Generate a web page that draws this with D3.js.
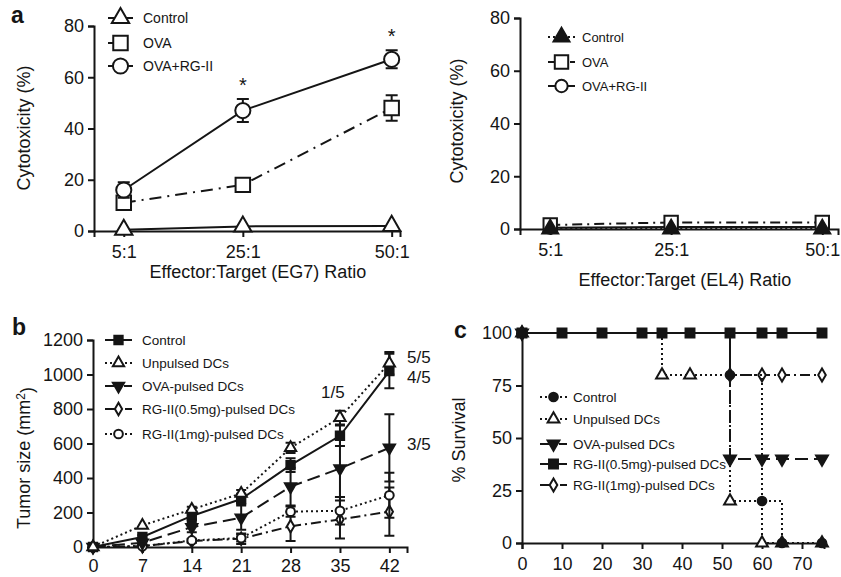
<!DOCTYPE html>
<html>
<head>
<meta charset="utf-8">
<script src="https://cdn.jsdelivr.net/npm/d3@7"></script>
<style>
  body { margin: 0; background: #fff; }
  svg { font-family: "Liberation Sans", Arial, sans-serif; }
</style>
</head>
<body>
<svg id="fig" width="841" height="577"></svg>
<script>
// panel a data: cytotoxicity vs effector:target ratio
var ratios = [5, 25, 50];
var ratioLabels = ["5:1", "25:1", "50:1"];
var cytoTicks = [0, 20, 40, 60, 80];
var eg7Names = ["Control", "OVA", "OVA+RG-II"];
var eg7Control = [0.5, 1.8, 2];
var eg7Ova = [11, 18, 48];
var eg7OvaErr = [0, 1.5, 5];
var eg7OvaRg = [16, 47, 67];
var eg7OvaRgErr = [3, 4.5, 3.5];
var el4Control = [0, 0, 0];
var el4Ova = [1.5, 2.5, 2.5];
var el4OvaRg = [0.5, 0.8, 0.8];

// panel b data: tumor size by day
var days = [0, 7, 14, 21, 28, 35, 42];
var tumorTicks = [0, 200, 400, 600, 800, 1000, 1200];
var groupNames = ["Control", "Unpulsed DCs", "OVA-pulsed DCs", "RG-II(0.5mg)-pulsed DCs", "RG-II(1mg)-pulsed DCs"];
var tumorControl = [0, 58, 180, 278, 475, 645, 1020];
var tumorControlErr = [0, 10, 20, 30, 40, 60, 100];
var tumorUnpulsed = [0, 125, 218, 310, 575, 750, 1065];
var tumorUnpulsedErr = [0, 0, 15, 20, 30, 40, 65];
var tumorOva = [0, 25, 115, 170, 350, 455, 575];
var tumorOvaErr = [0, 10, 30, 70, 110, 165, 195];
var tumorRg05 = [0, 5, 35, 48, 120, 160, 205];
var tumorRg05Err = [0, 5, 10, 30, 85, 110, 140];
var tumorRg1 = [0, 5, 38, 52, 205, 210, 300];
var tumorRg1Err = [0, 5, 10, 20, 30, 80, 130];
var tumorNotes = [["1/5", 34, 900], ["5/5", 44.5, 1100], ["4/5", 44.5, 985], ["3/5", 44.5, 595]];

// panel c data: survival (step curves)
var survTicks = [0, 25, 50, 75, 100];
var survDayTicks = [0, 10, 20, 30, 40, 50, 60, 70];
var ctrlDays = [0, 52, 60, 65, 75];
var ctrlSurv = [100, 80, 20, 0, 0];
var unpDays = [0, 35, 42, 52, 60, 65, 75];
var unpSurv = [100, 80, 80, 20, 0, 0, 0];
var ovaDays = [0, 52, 60, 65, 75];
var ovaSurv = [100, 40, 40, 40, 40];
var rg05Days = [0, 10, 20, 30, 35, 42, 52, 60, 65, 75];
var rg05Surv = [100, 100, 100, 100, 100, 100, 100, 100, 100, 100];
var rg1Days = [0, 52, 60, 65, 75];
var rg1Surv = [100, 80, 80, 80, 80];

var svg = d3.select("svg#fig");
var ink = "#151515";

var DOT = "2,3", DASHDOT = "10,4,2,4", LONGDASH = "13,6";

//draws left + bottom axes for one panel
function drawAxes(g, x, y, xTicks, xFmt, yTicks, pad) {
  var xa = d3.axisBottom(x).tickValues(xTicks).tickSizeOuter(0).tickSize(6).tickPadding(pad);
  xa.tickFormat(xFmt || d3.format("d"));
  var ya = d3.axisLeft(y).tickValues(yTicks).tickSizeOuter(0).tickSize(6).tickPadding(4)
    .tickFormat(d3.format("d"));
  var gx = g.append("g").attr("transform", "translate(0," + y.range()[0] + ")").call(xa);
  var gy = g.append("g").attr("transform", "translate(" + x.range()[0] + ",0)").call(ya);
  [gx, gy].forEach(function(a) {
    a.attr("font-family", null).attr("font-size", 18);
    a.select(".domain").attr("stroke", ink).attr("stroke-width", 2);
    a.selectAll(".tick line").attr("stroke", ink).attr("stroke-width", 2);
    a.selectAll(".tick text").attr("fill", ink);
  });
}

function symPath(st) {
  return d3.symbol().type(st.sym).size(st.size)();
}

function drawMarker(g, cx, cy, st) {
  g.append("path")
    .attr("d", symPath(st))
    .attr("transform", "translate(" + cx + "," + cy + ")" + (st.down ? " rotate(180)" : ""))
    .attr("fill", st.fill ? ink : "#fff")
    .attr("stroke", ink)
    .attr("stroke-width", st.sw || 2);
}

function drawSeries(g, x, y, xs, vals, errs, st) {
  var pts = xs.map(function(d, i) { return {x: d, v: vals[i], e: errs ? errs[i] : 0}; });
  var line = d3.line().x(function(d) { return x(d.x); }).y(function(d) { return y(d.v); });
  if (st.step) line.curve(d3.curveStepAfter);
  g.append("path").datum(pts)
    .attr("d", line)
    .attr("fill", "none")
    .attr("stroke", ink)
    .attr("stroke-width", 2)
    .attr("stroke-dasharray", st.dash);
  pts.filter(function(d) { return d.e > 0; }).forEach(function(d) {
    var px = x(d.x), top = y(d.v + d.e), bot = y(Math.max(0, d.v - d.e)), c = st.cap;
    g.append("path")
      .attr("d", "M" + px + "," + top + "V" + bot + "M" + (px - c) + "," + top + "H" + (px + c) + "M" + (px - c) + "," + bot + "H" + (px + c))
      .attr("stroke", ink).attr("stroke-width", 2).attr("fill", "none");
  });
  pts.forEach(function(d) { drawMarker(g, x(d.x), y(d.v), st); });
}

function drawLegend(g, names, styles, x0, x1, xt, ys, fs) {
  names.forEach(function(n, i) {
    g.append("line")
      .attr("x1", x0).attr("x2", x1).attr("y1", ys[i]).attr("y2", ys[i])
      .attr("stroke", ink).attr("stroke-width", 2)
      .attr("stroke-dasharray", styles[i].dash);
    drawMarker(g, (x0 + x1) / 2, ys[i], styles[i]);
    g.append("text").attr("x", xt).attr("y", ys[i]).attr("dy", "0.35em")
      .attr("font-size", fs).attr("fill", ink).text(n);
  });
}

function yTitle(g, cx, cy, txt, sup) {
  var t = g.append("text")
    .attr("transform", "translate(" + cx + "," + cy + ") rotate(-90)")
    .attr("text-anchor", "middle").attr("font-size", 18).attr("fill", ink).text(txt);
  if (sup) {
    t.append("tspan").attr("dy", "-0.45em").attr("font-size", 12).text(sup);
    t.append("tspan").attr("dy", "0.45em").text(")");
  }
}

function label(g, x, y, txt) {
  g.append("text").attr("x", x).attr("y", y).attr("font-size", 23)
    .attr("font-weight", "bold").attr("fill", ink).text(txt);
}

/** panel a, left (EG7) **/
var ga = svg.append("g");
var xa = d3.scaleLinear().domain([0, 51.4]).range([94, 400]);
var ya = d3.scaleLinear().domain([0, 80]).range([231, 26]);
drawAxes(ga, xa, ya, ratios, function(d, i) { return ratioLabels[i]; }, cytoTicks, 8);

var stA = [
  {dash: null, sym: d3.symbolTriangle, size: 130, cap: 6},
  {dash: "12,6,2,6", sym: d3.symbolSquare, size: 210, cap: 6},
  {dash: null, sym: d3.symbolCircle, size: 180, cap: 6}
];
drawSeries(ga, xa, ya, ratios, eg7Control, null, stA[0]);
drawSeries(ga, xa, ya, ratios, eg7Ova, eg7OvaErr, stA[1]);
drawSeries(ga, xa, ya, ratios, eg7OvaRg, eg7OvaRgErr, stA[2]);
[1, 2].forEach(function(i) {
  ga.append("text").attr("x", xa(ratios[i])).attr("y", ya(eg7OvaRg[i] + eg7OvaRgErr[i]) - 7)
    .attr("text-anchor", "middle").attr("font-size", 20).attr("fill", ink).text("*");
});
drawLegend(ga, eg7Names, stA, 108, 133, 143, [18, 43, 66], 14);
yTitle(ga, 30, 128, "Cytotoxicity (%)");
ga.append("text").attr("x", 258).attr("y", 278).attr("text-anchor", "middle")
  .attr("font-size", 18).attr("fill", ink).text("Effector:Target (EG7) Ratio");
label(ga, 11, 23, "a");

/** panel a, right (EL4) **/
var gr = svg.append("g");
var xr = d3.scaleLinear().domain([0, 52.6]).range([520, 838]);
var yr = d3.scaleLinear().domain([0, 80]).range([229, 18]);
drawAxes(gr, xr, yr, ratios, function(d, i) { return ratioLabels[i]; }, cytoTicks, 8);
var stR = [
  {dash: DOT, sym: d3.symbolTriangle, size: 110, fill: true, cap: 6},
  {dash: "10,5,2,5", sym: d3.symbolSquare, size: 180, cap: 6},
  {dash: null, sym: d3.symbolCircle, size: 120, cap: 6}
];
drawSeries(gr, xr, yr, ratios, el4OvaRg, null, stR[2]);
drawSeries(gr, xr, yr, ratios, el4Ova, null, stR[1]);
drawSeries(gr, xr, yr, ratios, el4Control, null, stR[0]);
drawLegend(gr, eg7Names, stR, 548, 575, 582, [37, 62, 86], 13);
yTitle(gr, 463, 121, "Cytotoxicity (%)");
gr.append("text").attr("x", 685).attr("y", 286).attr("text-anchor", "middle")
  .attr("font-size", 18).attr("fill", ink).text("Effector:Target (EL4) Ratio");

/** panel b: tumor size **/
var gb = svg.append("g");
var xb = d3.scaleLinear().domain([0, 44.5]).range([93, 407]);
var yb = d3.scaleLinear().domain([0, 1200]).range([547, 340]);
drawAxes(gb, xb, yb, days, null, tumorTicks, 6);
var stB = [
  {dash: null, sym: d3.symbolSquare, size: 70, fill: true, cap: 5},
  {dash: DOT, sym: d3.symbolTriangle, size: 55, cap: 5},
  {dash: LONGDASH, sym: d3.symbolTriangle, size: 55, fill: true, down: true, cap: 5},
  {dash: DASHDOT, sym: d3.symbolDiamond, size: 45, cap: 5},
  {dash: DOT, sym: d3.symbolCircle, size: 60, cap: 5}
];
drawSeries(gb, xb, yb, days, tumorRg05, tumorRg05Err, stB[3]);
drawSeries(gb, xb, yb, days, tumorRg1, tumorRg1Err, stB[4]);
drawSeries(gb, xb, yb, days, tumorOva, tumorOvaErr, stB[2]);
drawSeries(gb, xb, yb, days, tumorControl, tumorControlErr, stB[0]);
drawSeries(gb, xb, yb, days, tumorUnpulsed, tumorUnpulsedErr, stB[1]);
tumorNotes.forEach(function(n) {
  gb.append("text").attr("x", xb(n[1])).attr("y", yb(n[2])).attr("dy", "0.35em")
    .attr("text-anchor", n[1] > 42 ? "start" : "middle")
    .attr("font-size", 17).attr("fill", ink).text(n[0]);
});
drawLegend(gb, groupNames, stB, 105, 132, 142, [340, 363, 386, 409, 434], 13.5);
yTitle(gb, 30, 458, "Tumor size (mm", "2");
label(gb, 12, 335, "b");

/** panel c: survival **/
var gc = svg.append("g");
var xc = d3.scaleLinear().domain([0, 75.5]).range([522, 824]);
var yc = d3.scaleLinear().domain([0, 100]).range([543, 333]);
drawAxes(gc, xc, yc, survDayTicks, null, survTicks, 8);
var stC = [
  {dash: DOT, sym: d3.symbolCircle, size: 60, fill: true, step: true},
  {dash: DOT, sym: d3.symbolTriangle, size: 60, step: true},
  {dash: LONGDASH, sym: d3.symbolTriangle, size: 60, fill: true, down: true, step: true},
  {dash: null, sym: d3.symbolSquare, size: 80, fill: true, step: true},
  {dash: DASHDOT, sym: d3.symbolDiamond, size: 50, step: true}
];
drawSeries(gc, xc, yc, rg1Days, rg1Surv, null, stC[4]);
drawSeries(gc, xc, yc, ovaDays, ovaSurv, null, stC[2]);
drawSeries(gc, xc, yc, unpDays, unpSurv, null, stC[1]);
drawSeries(gc, xc, yc, ctrlDays, ctrlSurv, null, stC[0]);
drawSeries(gc, xc, yc, rg05Days, rg05Surv, null, stC[3]);
drawLegend(gc, groupNames, stC, 540, 567, 573, [397, 419, 444, 464, 485], 13.5);
yTitle(gc, 465, 440, "% Survival");
label(gc, 454, 338, "c");
</script>
</body>
</html>
